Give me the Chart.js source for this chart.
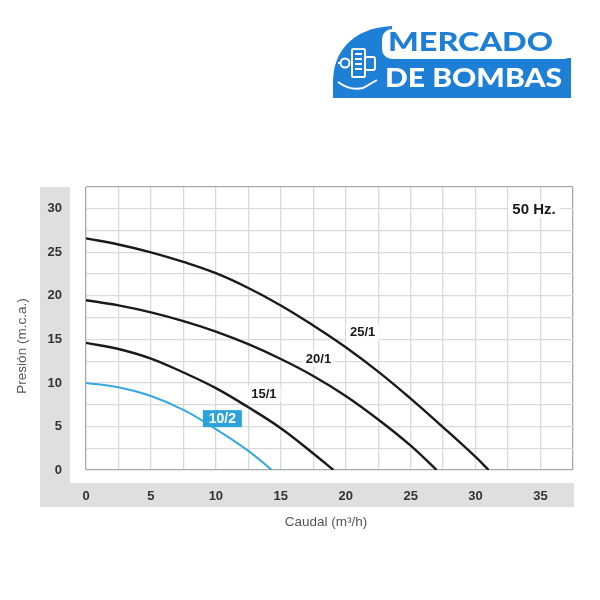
<!DOCTYPE html>
<html>
<head>
<meta charset="utf-8">
<title>Curvas de bombas 50 Hz</title>
<script src="https://cdn.jsdelivr.net/npm/chart.js@4.4.0/dist/chart.umd.min.js"></script>
<style>
  html, body { margin: 0; padding: 0; background: #fff; }
  #wrap { position: relative; width: 600px; height: 600px; }
  #chart { position: absolute; left: 0; top: 0; }
  #logo { position: absolute; left: 0; top: 0; }
</style>
</head>
<body>
<div id="wrap">
  <canvas id="chart" width="600" height="600"></canvas>
  <svg id="logo" width="600" height="110" viewBox="0 0 600 110">
    <path d="M333,98 V82 C333,52 352,28 392,26 V98 Z" fill="#1e7fd6"/>
    <rect x="380" y="58" width="191" height="40" fill="#1e7fd6"/>
    <rect x="382" y="29" width="192" height="30" rx="10" fill="#fff"/>
    <!-- pump icon -->
    <g fill="none" stroke="#fff" stroke-width="2">
      <rect x="352" y="49" width="13" height="28" rx="1.5"/>
      <line x1="355" y1="54" x2="362" y2="54"/>
      <line x1="355" y1="59" x2="362" y2="59"/>
      <line x1="355" y1="64" x2="362" y2="64"/>
      <line x1="355" y1="69" x2="362" y2="69"/>
      <rect x="365" y="57" width="10" height="13" rx="2"/>
      <circle cx="345" cy="63" r="4.5"/>
      <line x1="340" y1="63" x2="338" y2="63"/>
      <path d="M338,82 Q350,91 363,88 L377,80"/>
    </g>
    <text x="388" y="51" font-family="Lato, 'Open Sans', sans-serif" font-weight="900" font-size="27" fill="#1e7fd6" textLength="165" lengthAdjust="spacingAndGlyphs">MERCADO</text>
    <text x="385" y="87" font-family="Lato, 'Open Sans', sans-serif" font-weight="900" font-size="26" fill="#fff" textLength="177" lengthAdjust="spacingAndGlyphs">DE BOMBAS</text>
  </svg>
</div>
<script>
// curves: caudal (m³/h) and presión (m.c.a.)
const caudal25 = [0, 2.5, 5, 7.5, 10, 12.5, 15, 17.5, 20, 22.5, 25, 27.5, 30, 31];
const presion25 = [26.6, 25.9, 25.0, 23.9, 22.6, 20.9, 18.9, 16.6, 14.1, 11.3, 8.2, 4.9, 1.5, 0];
const caudal20 = [0, 2.5, 5, 7.5, 10, 12.5, 15, 17.5, 20, 22.5, 25, 27];
const presion20 = [19.5, 18.9, 18.1, 17.1, 15.9, 14.45, 12.75, 10.8, 8.5, 5.8, 2.8, 0];
const caudal15 = [0, 2.5, 5, 7.5, 10, 12.5, 15, 17.5, 19.05];
const presion15 = [14.6, 13.9, 12.8, 11.2, 9.4, 7.2, 4.8, 1.9, 0];
const caudal10 = [0, 2.5, 5, 7.5, 10, 12.5, 14.3];
const presion10 = [10.0, 9.5, 8.5, 6.9, 4.7, 2.2, 0];

const modelos = ['25/1', '20/1', '15/1', '10/2'];
const xTickLabels = [0, 5, 10, 15, 20, 25, 30, 35];
const yTickLabels = [0, 5, 10, 15, 20, 25, 30];

// where each model name sits on the chart (data units)
const etiquetas = [
  { text: '25/1', x: 21.3, y: 15.8 },
  { text: '20/1', x: 17.9, y: 12.75 },
  { text: '15/1', x: 13.7, y: 8.75 },
  { text: '10/2', x: 10.5, y: 5.9, box: true },
  { text: '50 Hz.', x: 34.5, y: 29.9, big: true }
];

const toPoints = (xs, ys) => xs.map((x, i) => ({ x: x, y: ys[i] }));

const FONT = '"Liberation Sans", Arial, Helvetica, sans-serif';
Chart.defaults.font.family = FONT;

const decor = {
  id: 'decor',
  beforeDraw(chart) {
    const { ctx, chartArea: a } = chart;
    ctx.save();
    ctx.fillStyle = '#fff';
    ctx.fillRect(0, 0, chart.width, chart.height);
    ctx.fillStyle = '#dfdfdf';
    ctx.fillRect(a.left - 46, a.top, 30, a.bottom + 37 - a.top);
    ctx.fillRect(a.left - 46, a.bottom + 13, a.right - a.left + 47, 24);
    ctx.restore();
  },
  afterDraw(chart) {
    const { ctx, chartArea: a, scales } = chart;
    ctx.save();
    // axis titles
    ctx.fillStyle = '#555';
    ctx.font = '13.5px ' + FONT;
    ctx.textAlign = 'center';
    ctx.textBaseline = 'middle';
    ctx.fillText('Caudal (m³/h)', 326, a.bottom + 52);
    ctx.translate(22, 346);
    ctx.rotate(-Math.PI / 2);
    ctx.fillText('Presión (m.c.a.)', 0, 0);
    ctx.setTransform(1, 0, 0, 1, 0, 0);

    etiquetas.forEach(e => {
      const px = scales.x.getPixelForValue(e.x);
      const py = scales.y.getPixelForValue(e.y);
      ctx.font = 'bold ' + (e.big ? 15 : e.box ? 14 : 13) + 'px ' + FONT;
      const w = ctx.measureText(e.text).width;
      if (e.box) {
        ctx.fillStyle = '#2ba4dd';
        ctx.fillRect(px - 19.5, py - 8.5, 39, 17);
        ctx.fillStyle = '#fff';
      } else {
        ctx.fillStyle = '#fff';
        ctx.fillRect(px - w / 2 - 4, py - 8, w + 8, 16);
        ctx.fillStyle = '#1a1a1a';
      }
      ctx.fillText(e.text, px, py + 0.5);
    });
    ctx.restore();
  }
};

const edgeColor = (ctx, max) => {
  const v = ctx.tick ? ctx.tick.value : null;
  return (v === 0 || v === max) ? '#a9a9a9' : '#dadada';
};

new Chart(document.getElementById('chart').getContext('2d'), {
  type: 'line',
  data: {
    datasets: [
      { label: modelos[0], data: toPoints(caudal25, presion25), borderColor: '#1a1a1a', borderWidth: 2.4 },
      { label: modelos[1], data: toPoints(caudal20, presion20), borderColor: '#1a1a1a', borderWidth: 2.4 },
      { label: modelos[2], data: toPoints(caudal15, presion15), borderColor: '#1a1a1a', borderWidth: 2.4 },
      { label: modelos[3], data: toPoints(caudal10, presion10), borderColor: '#35a9e1', borderWidth: 2 }
    ]
  },
  options: {
    responsive: false,
    animation: false,
    devicePixelRatio: 1,
    layout: { padding: { left: 0, top: 187, right: 27, bottom: 0 } },
    elements: {
      point: { radius: 0 },
      line: { tension: 0.4, fill: false }
    },
    plugins: {
      legend: { display: false },
      tooltip: { enabled: false }
    },
    scales: {
      x: {
        type: 'linear',
        min: 0,
        max: 37.5,
        afterFit: s => { s.height = 130; },
        border: { display: false },
        grid: { color: c => edgeColor(c, 37.5), lineWidth: 1.3, drawTicks: false },
        ticks: {
          stepSize: 2.5,
          autoSkip: false,
          maxRotation: 0,
          padding: 19,
          color: '#333',
          font: { size: 13, weight: 'bold' },
          callback: v => xTickLabels.includes(v) ? String(v) : ''
        }
      },
      y: {
        min: 0,
        max: 32.5,
        afterFit: s => { s.width = 86; },
        border: { display: false },
        grid: { color: c => edgeColor(c, 32.5), lineWidth: 1.3, drawTicks: false },
        ticks: {
          stepSize: 2.5,
          autoSkip: false,
          padding: 24,
          color: '#333',
          font: { size: 13, weight: 'bold' },
          callback: v => yTickLabels.includes(v) ? String(v) : ''
        }
      }
    }
  },
  plugins: [decor]
});
</script>
</body>
</html>
